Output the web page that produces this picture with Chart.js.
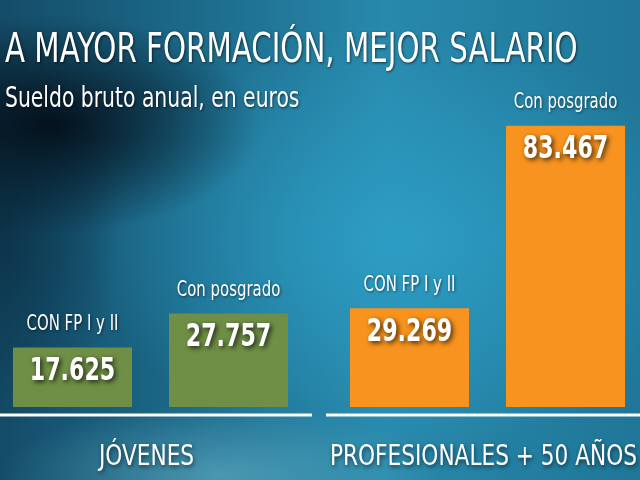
<!DOCTYPE html>
<html lang="es">
<head>
<meta charset="utf-8">
<script src="https://cdn.jsdelivr.net/npm/chart.js@4/dist/chart.umd.min.js"></script>
<style>
  html, body { margin: 0; padding: 0; }
  body {
    width: 640px; height: 480px; overflow: hidden; position: relative;
    font-family: "DejaVu Sans Condensed", "Liberation Sans", sans-serif;
    background:
      radial-gradient(ellipse 210px 110px at 50px 125px, rgba(3,14,24,0.95) 0%, rgba(3,14,24,0) 100%),
      radial-gradient(ellipse 120px 200px at 0px 230px, rgba(8,40,60,0.7) 0%, rgba(8,40,60,0) 100%),
      radial-gradient(ellipse 320px 210px at 400px 240px, rgba(46,160,200,0.85) 0%, rgba(46,160,200,0) 100%),
      radial-gradient(ellipse 220px 70px at 220px 475px, rgba(110,185,205,0.55) 0%, rgba(110,185,205,0) 100%),
      linear-gradient(90deg, #144c68 0%, #1c6a8a 30%, #2889ac 60%, #1f7698 100%);
  }
  .txt {
    position: absolute; left: 5px; margin: 0; color: #fff; font-weight: normal; white-space: nowrap;
    text-shadow: 1px 1px 3px rgba(0,0,0,0.65); transform-origin: 0 0;
  }
  #titulo { top: 24px; font-size: 41px; }
  #subtitulo { top: 80px; font-size: 29px; }
  #grafico { position: absolute; left: -18px; top: 0; }
</style>
</head>
<body>
<canvas id="grafico" width="674" height="480"></canvas>
<h1 class="txt" id="titulo">A MAYOR FORMACIÓN, MEJOR SALARIO</h1>
<p class="txt" id="subtitulo">Sueldo bruto anual, en euros</p>
<script>
// Datos (euros brutos anuales)
const grupos = ['JÓVENES', 'PROFESIONALES + 50 AÑOS'];
const series = ['CON FP I y II', 'Con posgrado'];
const conFP = [17625, 29269];
const conPosgrado = [27757, 83467];

const colores = ['#6f8f46', '#f7931e'];
const fuente = '"DejaVu Sans Condensed", "Liberation Sans", sans-serif';

// la tipografía original es más estrecha: se comprime en horizontal
document.getElementById('titulo').style.transform = 'scaleX(0.795)';
document.getElementById('subtitulo').style.transform = 'scaleX(0.78)';

function miles(v) {
  return String(v).replace(/\B(?=(\d{3})+(?!\d))/g, '.');
}

function texto(ctx, t, x, y, k) {
  ctx.save();
  ctx.translate(x, y);
  ctx.scale(k, 1);
  ctx.fillText(t, 0, 0);
  ctx.restore();
}

// textos sobre y dentro de cada barra, y nombres de grupo
const etiquetas = {
  id: 'etiquetas',
  afterDatasetsDraw(chart) {
    const ctx = chart.ctx;
    ctx.save();
    ctx.textAlign = 'center';
    ctx.textBaseline = 'middle';
    ctx.fillStyle = '#fff';
    chart.data.datasets.forEach((ds, i) => {
      chart.getDatasetMeta(i).data.forEach((bar, j) => {
        ctx.shadowColor = 'rgba(0,0,0,0.55)';
        ctx.shadowBlur = 3;
        ctx.shadowOffsetX = 1;
        ctx.shadowOffsetY = 1;
        ctx.font = '21px ' + fuente;
        texto(ctx, ds.label, bar.x, bar.y - 23, 0.79);
        ctx.shadowColor = 'rgba(0,0,0,0.75)';
        ctx.shadowBlur = 5;
        ctx.shadowOffsetX = 2;
        ctx.shadowOffsetY = 2;
        ctx.font = 'bold 32px ' + fuente;
        texto(ctx, miles(ds.data[j]), bar.x, bar.y + 24, 0.77);
      });
    });
    const x = chart.scales.x;
    ctx.shadowColor = 'rgba(0,0,0,0.6)';
    ctx.shadowBlur = 4;
    ctx.shadowOffsetX = 1;
    ctx.shadowOffsetY = 2;
    ctx.font = '28px ' + fuente;
    grupos.forEach((g, i) => {
      texto(ctx, g, x.getPixelForTick(i) - 4, chart.chartArea.bottom + 51, 0.86);
    });
    ctx.restore();
  }
};

// líneas blancas bajo cada grupo
const lineas = {
  id: 'lineas',
  afterDatasetsDraw(chart) {
    const ctx = chart.ctx;
    const x = chart.scales.x;
    const ancho = (x.right - x.left) / grupos.length;
    const y = chart.chartArea.bottom + 8;
    ctx.save();
    ctx.strokeStyle = '#ffffff';
    ctx.lineWidth = 3;
    grupos.forEach((g, i) => {
      const c = x.getPixelForTick(i);
      ctx.beginPath();
      ctx.moveTo(c - ancho / 2 + 7, y);
      ctx.lineTo(c + ancho / 2 - 7, y);
      ctx.stroke();
    });
    ctx.restore();
  }
};

new Chart(document.getElementById('grafico'), {
  type: 'bar',
  data: {
    labels: grupos,
    datasets: [
      { label: series[0], data: conFP, backgroundColor: colores },
      { label: series[1], data: conPosgrado, backgroundColor: colores }
    ]
  },
  options: {
    responsive: false,
    animation: false,
    devicePixelRatio: 1,
    categoryPercentage: 0.926,
    barPercentage: 0.763,
    layout: { padding: { top: 70, bottom: 73, left: 0, right: 0 } },
    plugins: { legend: { display: false }, tooltip: { enabled: false } },
    scales: {
      x: { display: false },
      y: { display: false, min: 0, max: 100000 }
    }
  },
  plugins: [lineas, etiquetas]
});
</script>
</body>
</html>
